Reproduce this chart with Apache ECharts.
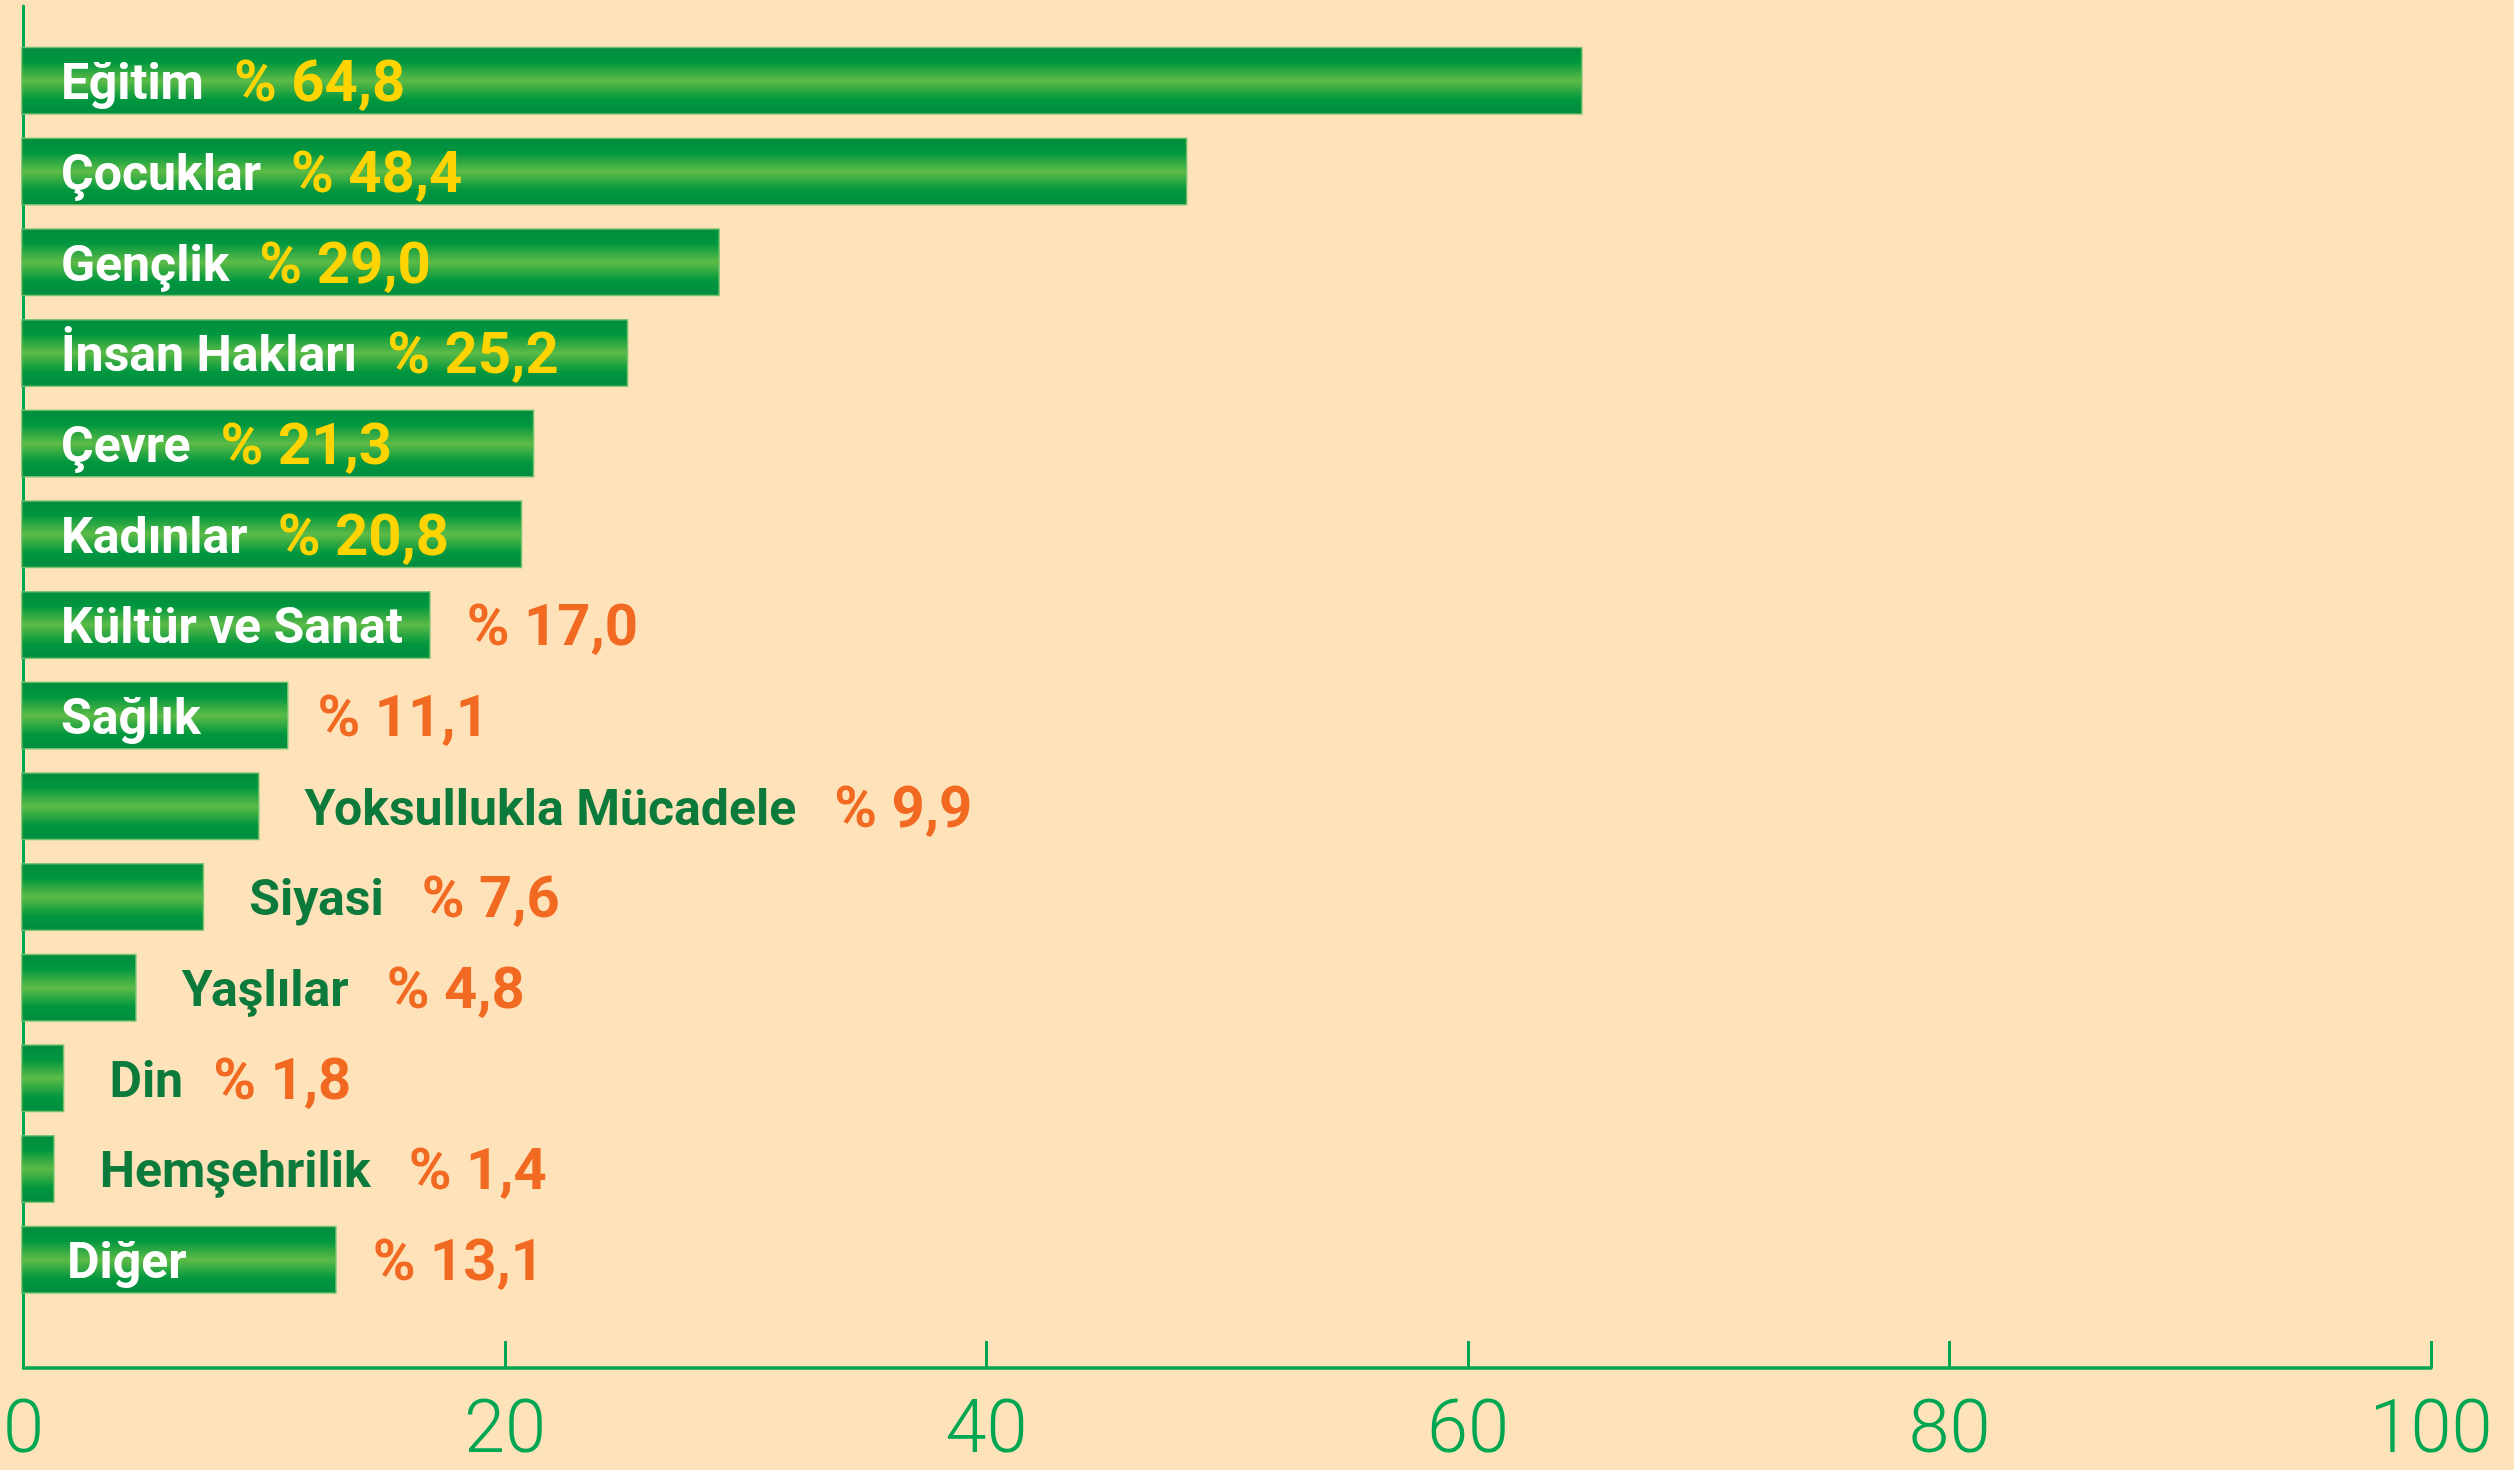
<!DOCTYPE html>
<html>
<head>
<meta charset="utf-8">
<script src="https://cdn.jsdelivr.net/npm/echarts@6/dist/echarts.min.js"></script>
<style>
  html, body { margin: 0; padding: 0; background: #fde2ba; }
  .bar { width: 2514px; height: 1470px; }
</style>
</head>
<body>
<div class="bar"></div>
<script>
// 数据
const categories = ['Eğitim', 'Çocuklar', 'Gençlik', 'İnsan Hakları', 'Çevre', 'Kadınlar', 'Kültür ve Sanat',
  'Sağlık', 'Yoksullukla Mücadele', 'Siyasi', 'Yaşlılar', 'Din', 'Hemşehrilik', 'Diğer']
const values = [64.8, 48.4, 29.0, 25.2, 21.3, 20.8, 17.0, 11.1, 9.9, 7.6, 4.8, 1.8, 1.4, 13.1]
const xTicks = [0, 20, 40, 60, 80, 100]

// in: name+value inside bar, split: name inside / value after bar, out: both after bar
const labelModes = ['in', 'in', 'in', 'in', 'in', 'in', 'split', 'split', 'out', 'out', 'out', 'out', 'out', 'split'];

(function () {
  let mychart = echarts.init(document.querySelector('.bar'))
  let green = '#00a651'
  let pct = function (v) {
    return '% ' + v.toFixed(1).replace('.', ',')
  }
  let rich = {
    w: { color: '#fff', fontSize: 50, fontWeight: 'bold', fontFamily: 'Roboto' },
    g: { color: '#0b7a3b', fontSize: 50, fontWeight: 'bold', fontFamily: 'Roboto' },
    y: { color: '#ffd400', fontSize: 58, fontWeight: 'bold', fontFamily: 'Roboto' },
    o: { color: '#f26a22', fontSize: 58, fontWeight: 'bold', fontFamily: 'Roboto' },
    s: { width: 30 },
    s2: { width: 38 },
    s3: { width: 30 }
  }

  let barData = values.map(function (v, i) {
    let mode = labelModes[i]
    let label
    if (mode === 'in') {
      label = { position: 'insideLeft', distance: 40, formatter: '{w|' + categories[i] + '}{s|}{y|' + pct(v) + '}' }
    } else if (mode === 'split') {
      label = { position: 'insideLeft', distance: i === 13 ? 46 : 40, formatter: '{w|' + categories[i] + '}' }
    } else {
      let sp = i === 11 ? 's3' : 's2'
      label = { position: 'right', distance: 45, formatter: '{g|' + categories[i] + '}{' + sp + '|}{o|' + pct(v) + '}' }
    }
    label.offset = [0, 6]
    return { value: v, label: label }
  })

  // 透明的叠加柱,只用来放柱外的数值
  let valueData = values.map(function (v, i) {
    return {
      value: v,
      label: {
        show: labelModes[i] === 'split',
        position: 'right',
        distance: i === 7 ? 29 : 36,
        offset: [0, 6],
        formatter: '{o|' + pct(v) + '}'
      }
    }
  })

  let option = {
    backgroundColor: '#fde2ba',
    animation: false,
    grid: [
      { left: 21, right: 83, top: 35.5, bottom: 165 },
      { left: 21, right: 83, top: 6, bottom: 95 }
    ],
    xAxis: [
      { gridIndex: 0, type: 'value', min: 0, max: 100, show: false },
      {
        gridIndex: 1,
        type: 'value',
        min: 0,
        max: 100,
        interval: 20,
        axisLine: { show: true, lineStyle: { color: green, width: 3.5 } },
        axisTick: { show: true, inside: true, length: 27, lineStyle: { color: green, width: 3 } },
        splitLine: { show: false },
        axisLabel: {
          color: green,
          fontSize: 74,
          fontWeight: 300,
          fontFamily: 'Roboto',
          margin: 28,
          formatter: function (v) {
            return xTicks.indexOf(v) >= 0 ? String(v) : ''
          }
        }
      }
    ],
    yAxis: [
      {
        gridIndex: 0,
        type: 'category',
        data: categories,
        inverse: true,
        axisLine: { show: false },
        axisTick: { show: false },
        axisLabel: { show: false }
      },
      {
        gridIndex: 1,
        type: 'value',
        min: 0,
        max: 1,
        axisLine: { show: true, lineStyle: { color: green, width: 3 } },
        axisTick: { show: false },
        axisLabel: { show: false },
        splitLine: { show: false }
      }
    ],
    series: [
      {
        name: 'bars',
        type: 'bar',
        xAxisIndex: 0,
        yAxisIndex: 0,
        barWidth: 68,
        barGap: '-100%',
        itemStyle: {
          color: new echarts.graphic.LinearGradient(0, 0, 0, 1, [
            { offset: 0, color: '#008c3e' },
            { offset: 0.22, color: '#00963f' },
            { offset: 0.5, color: '#5dbb46' },
            { offset: 0.78, color: '#00963f' },
            { offset: 1, color: '#008c3e' }
          ]),
          borderColor: 'rgba(120,195,110,0.9)',
          borderWidth: 1.5
        },
        label: { show: true, rich: rich },
        data: barData
      },
      {
        name: 'values',
        type: 'bar',
        xAxisIndex: 0,
        yAxisIndex: 0,
        barWidth: 68,
        barGap: '-100%',
        silent: true,
        itemStyle: { color: 'rgba(0,0,0,0)' },
        label: { rich: rich },
        data: valueData
      }
    ]
  }
  mychart.setOption(option)
  // 让图标跟随屏幕自适应
  window.addEventListener('resize',
    function () {
      mychart.resize()
    })
})();
</script>
</body>
</html>
